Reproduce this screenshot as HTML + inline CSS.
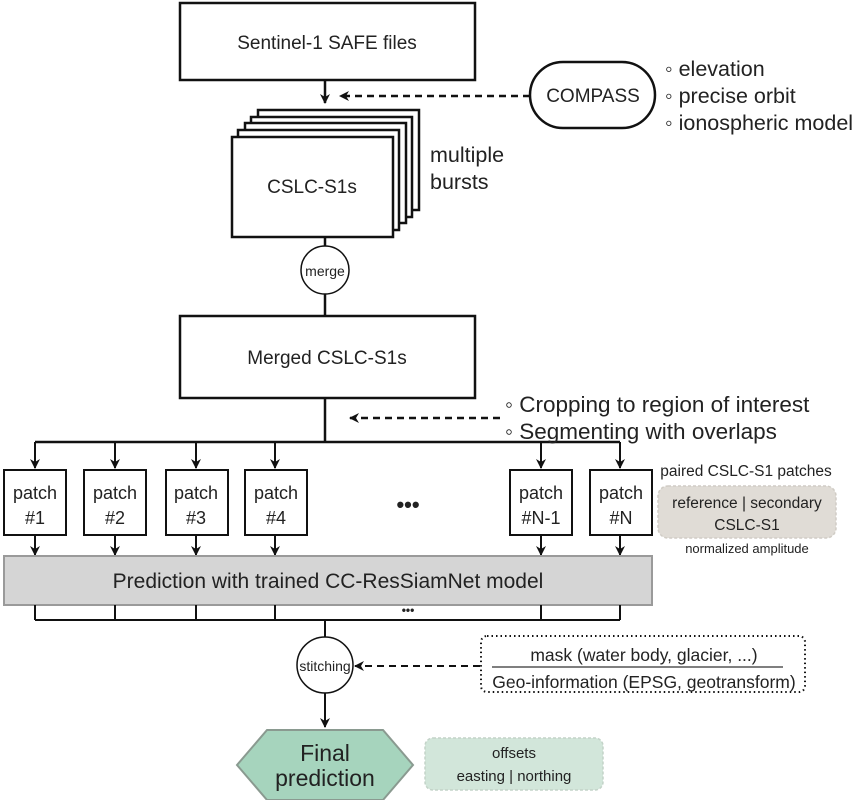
<!DOCTYPE html>
<html><head><meta charset="utf-8"><style>
html,body{margin:0;padding:0;background:#fff}
svg{display:block}
text{font-family:"Liberation Sans",sans-serif;fill:#222}
</style></head><body>
<svg width="857" height="800" viewBox="0 0 857 800" xmlns="http://www.w3.org/2000/svg">
<defs>
<marker id="a" markerWidth="10" markerHeight="10" refX="9" refY="5" orient="auto" markerUnits="userSpaceOnUse"><path d="M0,0 L10,5 L0,10 L3,5 z" fill="#111"/></marker>
</defs>
<g stroke="#111" stroke-width="2.5" fill="none">
<rect x="180" y="3" width="295" height="77" fill="#fff"/>
<line x1="325" y1="80" x2="325" y2="103" marker-end="url(#a)"/>
<line x1="530" y1="96" x2="340" y2="96" stroke-dasharray="7,5" marker-end="url(#a)"/>
<rect x="530" y="62" width="125" height="66" rx="33" fill="#fff"/>
<rect x="258" y="110" width="161" height="100" fill="#fff"/>
<rect x="251" y="117" width="161" height="100" fill="#fff"/>
<rect x="245" y="123" width="161" height="100" fill="#fff"/>
<rect x="238" y="130" width="161" height="100" fill="#fff"/>
<rect x="232" y="137" width="161" height="100" fill="#fff"/>
<line x1="325" y1="237" x2="325" y2="246"/>
<circle cx="325" cy="270" r="24" fill="#fff" stroke-width="1.5"/>
<line x1="325" y1="294" x2="325" y2="316"/>
<rect x="180" y="316" width="295" height="82" fill="#fff"/>
<line x1="325" y1="398" x2="325" y2="442"/>
<line x1="500" y1="418" x2="350" y2="418" stroke-dasharray="7,5" marker-end="url(#a)"/>
<line x1="35" y1="442" x2="620" y2="442"/>
<g stroke-width="2">
<line x1="35" y1="442" x2="35" y2="468" marker-end="url(#a)"/>
<line x1="115" y1="442" x2="115" y2="468" marker-end="url(#a)"/>
<line x1="196" y1="442" x2="196" y2="468" marker-end="url(#a)"/>
<line x1="275" y1="442" x2="275" y2="468" marker-end="url(#a)"/>
<line x1="541" y1="442" x2="541" y2="468" marker-end="url(#a)"/>
<line x1="620" y1="442" x2="620" y2="468" marker-end="url(#a)"/>
<line x1="35" y1="535" x2="35" y2="555" marker-end="url(#a)"/>
<line x1="115" y1="535" x2="115" y2="555" marker-end="url(#a)"/>
<line x1="196" y1="535" x2="196" y2="555" marker-end="url(#a)"/>
<line x1="275" y1="535" x2="275" y2="555" marker-end="url(#a)"/>
<line x1="541" y1="535" x2="541" y2="555" marker-end="url(#a)"/>
<line x1="620" y1="535" x2="620" y2="555" marker-end="url(#a)"/>
</g>
<rect x="4" y="470" width="62" height="65" fill="#fff" stroke-width="2"/>
<rect x="84" y="470" width="62" height="65" fill="#fff" stroke-width="2"/>
<rect x="166" y="470" width="62" height="65" fill="#fff" stroke-width="2"/>
<rect x="245" y="470" width="62" height="65" fill="#fff" stroke-width="2"/>
<rect x="510" y="470" width="62" height="65" fill="#fff" stroke-width="2"/>
<rect x="590" y="470" width="62" height="65" fill="#fff" stroke-width="2"/>
<rect x="4" y="556" width="648" height="49" fill="#d5d5d5" stroke="#9a9a9a" stroke-width="2"/>
<g stroke-width="2">
<line x1="35" y1="605" x2="35" y2="620"/><line x1="115" y1="605" x2="115" y2="620"/>
<line x1="196" y1="605" x2="196" y2="620"/><line x1="275" y1="605" x2="275" y2="620"/>
<line x1="541" y1="605" x2="541" y2="620"/><line x1="620" y1="605" x2="620" y2="620"/>
<line x1="35" y1="620" x2="620" y2="620"/>
<line x1="325" y1="620" x2="325" y2="637"/>
</g>
<circle cx="325" cy="665" r="28" fill="#fff" stroke-width="1.5"/>
<line x1="480" y1="666" x2="355" y2="666" stroke-dasharray="7,5" stroke-width="2" marker-end="url(#a)"/>
<rect x="481" y="636" width="324" height="56" rx="6" stroke-dasharray="1.5,3" stroke-width="2"/>
<line x1="492" y1="667" x2="783" y2="667" stroke="#555" stroke-width="1.5"/>
<line x1="325" y1="693" x2="325" y2="727" stroke-width="2" marker-end="url(#a)"/>
<polygon points="237,765 267,730 383,730 413,765 383,800 267,800" fill="#a6d4bd" stroke="#8a9a90" stroke-width="2"/>
<rect x="425" y="738" width="178" height="52" rx="8" fill="#d2e6da" stroke="#c3d3c8" stroke-width="1.5" stroke-dasharray="3,2"/>
<rect x="658" y="486" width="178" height="52" rx="10" fill="#e0dcd6" stroke="#d0ccc5" stroke-width="1.5" stroke-dasharray="3,2"/>
</g>
<g font-size="19" text-anchor="middle">
<text x="327" y="49">Sentinel-1 SAFE files</text>
<text x="593" y="102">COMPASS</text>
<text x="312" y="193">CSLC-S1s</text>
<text x="327" y="364">Merged CSLC-S1s</text>
</g>
<g font-size="21.5">
<text x="665" y="76">◦ elevation</text>
<text x="665" y="103">◦ precise orbit</text>
<text x="665" y="130">◦ ionospheric model</text>
<text x="430" y="162">multiple</text>
<text x="430" y="189">bursts</text>
</g>
<g font-size="22.5">
<text x="505" y="412">◦ Cropping to region of interest</text>
<text x="505" y="439">◦ Segmenting with overlaps</text>
</g>
<g font-size="18" text-anchor="middle">
<text x="35" y="499">patch</text><text x="35" y="524">#1</text>
<text x="115" y="499">patch</text><text x="115" y="524">#2</text>
<text x="196" y="499">patch</text><text x="196" y="524">#3</text>
<text x="276" y="499">patch</text><text x="276" y="524">#4</text>
<text x="541" y="499">patch</text><text x="541" y="524">#N-1</text>
<text x="621" y="499">patch</text><text x="621" y="524">#N</text>
<text x="408" y="512" font-size="22" font-weight="bold">•••</text>
<text x="408" y="614" font-size="12" font-weight="bold">•••</text>
<text x="328" y="588" font-size="21">Prediction with trained CC-ResSiamNet model</text>
<text x="325" y="671" font-size="14">stitching</text>
<text x="325" y="276" font-size="14">merge</text>
<text x="746" y="476" font-size="15.5">paired CSLC-S1 patches</text>
<text x="747" y="508" font-size="15.5">reference | secondary</text>
<text x="747" y="530" font-size="15.5">CSLC-S1</text>
<text x="747" y="553" font-size="13">normalized amplitude</text>
<text x="644" y="661" font-size="17.5">mask (water body, glacier, ...)</text>
<text x="644" y="688" font-size="17.5">Geo-information (EPSG, geotransform)</text>
<text x="325" y="761" font-size="23">Final</text>
<text x="325" y="786" font-size="23">prediction</text>
<text x="514" y="758" font-size="15">offsets</text>
<text x="514" y="781" font-size="15">easting  |  northing</text>
</g>
</svg>
</body></html>
